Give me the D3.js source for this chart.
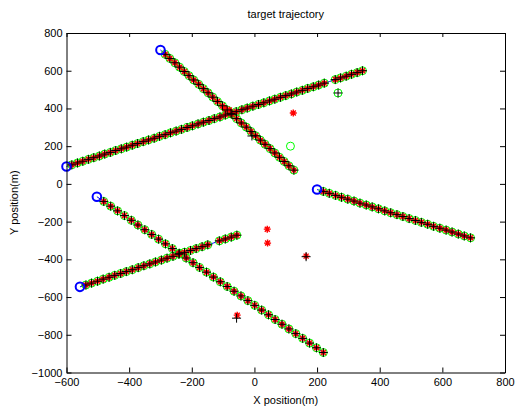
<!DOCTYPE html>
<html>
<head>
<meta charset="utf-8">
<script src="https://cdn.jsdelivr.net/npm/d3@7"></script>
<style>
  html, body { margin: 0; padding: 0; background: #fff; }
  svg { display: block; font-family: "Liberation Sans", Arial, Helvetica, sans-serif; }
</style>
</head>
<body>
<svg id="chart" width="517" height="410"></svg>
<script>
// Five target tracks: true positions (m). Index 0 is the start point.
const t1x = [-600,-583,-565,-548,-530,-513,-495,-478,-460,-443,-425,-408,-390,-373,-355,-338,-320,-303,-285,-268,-250,-233,-215,-198,-180,-163,-145,-128,-110,-93,-75,-58,-40,-23,-5,13,30,48,65,83,100,118,135,153,170,188,205,223,240,258,275,293,310,328,345];
const t1y = [92,101,111,120,130,139,148,158,167,177,186,195,205,214,224,233,242,252,261,271,280,289,299,308,318,327,336,346,355,365,374,383,393,402,412,421,430,440,449,459,468,477,487,496,506,515,524,534,543,553,562,571,581,590,600];
const t2x = [-300,-285,-270,-254,-239,-224,-209,-194,-178,-163,-148,-133,-118,-102,-87,-72,-57,-42,-26,-11,4,19,34,50,65,80,95,110,126];
const t2y = [710,687,665,642,619,596,574,551,528,505,483,460,437,414,392,369,346,323,301,278,255,232,210,187,164,141,119,96,73];
const t3x = [200,220,239,259,278,298,318,337,357,376,396,416,435,455,474,494,514,533,553,572,592,612,631,651,670,690];
const t3y = [-30,-40,-50,-61,-71,-81,-91,-102,-112,-122,-132,-143,-153,-163,-173,-184,-194,-204,-214,-225,-235,-245,-255,-266,-276,-286];
const t4x = [-503,-481,-459,-437,-415,-393,-372,-350,-328,-306,-284,-262,-240,-218,-196,-175,-153,-131,-109,-87,-65,-43,-21,1,23,45,66,88,110,132,154,176,198,220];
const t4y = [-68,-93,-118,-143,-168,-193,-218,-243,-268,-293,-318,-343,-368,-393,-418,-443,-468,-494,-519,-544,-569,-594,-619,-644,-669,-694,-719,-744,-769,-794,-819,-844,-869,-894];
const t5x = [-557,-538,-520,-501,-483,-464,-446,-427,-409,-390,-371,-353,-334,-316,-297,-279,-260,-241,-223,-204,-186,-167,-149,-130,-112,-93,-74,-56];
const t5y = [-546,-536,-526,-516,-505,-495,-485,-475,-465,-455,-444,-434,-424,-414,-404,-394,-384,-373,-363,-353,-343,-333,-323,-313,-302,-292,-282,-272];

// Steps with no detection on a track (index into that track's arrays)
const missed = [[48], [], [], [], [23]];

// Detections away from the tracks (clutter / stray estimates)
const strayCircleX = [115, 267];
const strayCircleY = [200, 482];
const strayStarX = [124, 41, 42, 165, -55, -95, -80];
const strayStarY = [376, -240, -314, -383, -696, 400, 392];
const strayPlusX = [-8, 267, 165, -57];
const strayPlusY = [254, 482, -386, -712];

// Axis ticks
const xTicks = [-600, -400, -200, 0, 200, 400, 600, 800];
const yTicks = [-1000, -800, -600, -400, -200, 0, 200, 400, 600, 800];

const tracks = [[t1x, t1y], [t2x, t2y], [t3x, t3y], [t4x, t4y], [t5x, t5y]]
  .map(([xs, ys], k) => xs.map((v, i) => ({x: v, y: ys[i], i, miss: missed[k].includes(i)})));

const svg = d3.select("#chart");
const mLeft = 66.5, mRight = 505, mTop = 33, mBottom = 372.5;
const x = d3.scaleLinear().domain([-600, 800]).range([mLeft, mRight]);
const y = d3.scaleLinear().domain([-1000, 800]).range([mBottom, mTop]);

const plot = svg.append("g");

// true trajectories
const line = d3.line().x(d => x(d.x)).y(d => y(d.y));
plot.selectAll("path.truth").data(tracks).join("path")
  .attr("class", "truth").attr("d", line)
  .attr("fill", "none").attr("stroke", "#0000ff").attr("stroke-width", 1);

const detected = tracks.flatMap(t => t.filter(d => d.i > 0 && !d.miss));
const circlePts = detected.concat(strayCircleX.map((v, i) => ({x: v, y: strayCircleY[i]})));
const starPts = detected.concat(strayStarX.map((v, i) => ({x: v, y: strayStarY[i]})));
const plusPts = detected.concat(strayPlusX.map((v, i) => ({x: v, y: strayPlusY[i]})));

// estimated positions: green circles
plot.selectAll("circle.est").data(circlePts).join("circle")
  .attr("class", "est")
  .attr("cx", d => x(d.x)).attr("cy", d => y(d.y)).attr("r", 4)
  .attr("fill", "none").attr("stroke", "#00ff00").attr("stroke-width", 1);

// measurements: red stars
const starPath = "M-3.5,0H3.5M0,-3.5V3.5M-2.5,-2.5L2.5,2.5M-2.5,2.5L2.5,-2.5";
plot.selectAll("path.meas").data(starPts).join("path")
  .attr("class", "meas").attr("d", starPath)
  .attr("transform", d => `translate(${x(d.x)},${y(d.y)})`)
  .attr("fill", "none").attr("stroke", "#ff0000").attr("stroke-width", 1.4);

// filtered points: black plus signs
const plusPath = "M-4.5,0H4.5M0,-4.5V4.5";
plot.selectAll("path.filt").data(plusPts).join("path")
  .attr("class", "filt").attr("d", plusPath)
  .attr("transform", d => `translate(${x(d.x)},${y(d.y)})`)
  .attr("fill", "none").attr("stroke", "#000").attr("stroke-width", 1);

// start points: blue circles
plot.selectAll("circle.start").data(tracks.map(t => t[0])).join("circle")
  .attr("class", "start")
  .attr("cx", d => x(d.x)).attr("cy", d => y(d.y)).attr("r", 4.3)
  .attr("fill", "none").attr("stroke", "#0000ff").attr("stroke-width", 2);

// axes with inward ticks on all four sides
const fmt = d3.format("d");
function styleAxis(g) {
  g.selectAll("text").attr("fill", "#000").style("font-size", "11px")
    .style("font-family", '"Liberation Sans", Arial, Helvetica, sans-serif');
  g.selectAll("line").attr("stroke", "#000");
  g.select(".domain").attr("stroke", "#000");
}
svg.append("g").attr("transform", `translate(0,${mBottom})`)
  .call(d3.axisBottom(x).tickValues(xTicks).tickFormat(fmt).tickSizeInner(-5).tickSizeOuter(0).tickPadding(6))
  .call(styleAxis);
svg.append("g").attr("transform", `translate(0,${mTop})`)
  .call(d3.axisTop(x).tickValues(xTicks).tickFormat("").tickSizeInner(-4).tickSizeOuter(0))
  .call(styleAxis);
svg.append("g").attr("transform", `translate(${mLeft},0)`)
  .call(d3.axisLeft(y).tickValues(yTicks).tickFormat(fmt).tickSizeInner(-5).tickSizeOuter(0).tickPadding(4))
  .call(styleAxis);
svg.append("g").attr("transform", `translate(${mRight},0)`)
  .call(d3.axisRight(y).tickValues(yTicks).tickFormat("").tickSizeInner(-5).tickSizeOuter(0))
  .call(styleAxis);

// labels
svg.append("text").attr("x", (mLeft + mRight) / 2).attr("y", 18)
  .attr("text-anchor", "middle").style("font-size", "11px").text("target trajectory");
svg.append("text").attr("x", (mLeft + mRight) / 2).attr("y", 404)
  .attr("text-anchor", "middle").style("font-size", "11px").text("X position(m)");
svg.append("text").attr("transform", `translate(18,${(mTop + mBottom) / 2}) rotate(-90)`)
  .attr("text-anchor", "middle").style("font-size", "11px").text("Y position(m)");
</script>
</body>
</html>
